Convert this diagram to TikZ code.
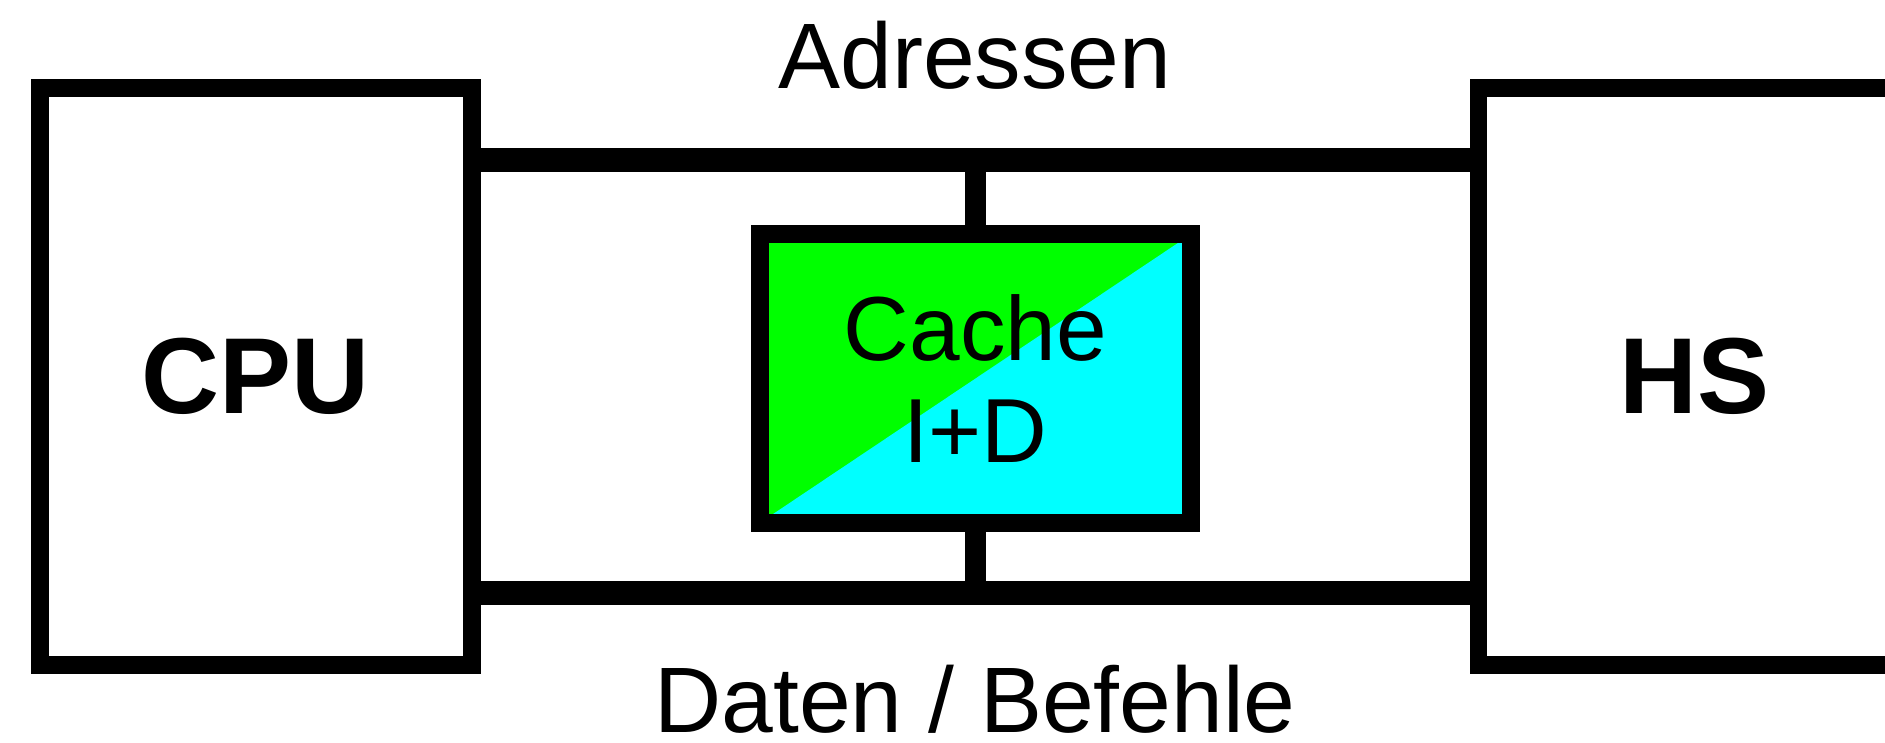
\documentclass[tikz,border=0pt]{standalone}
\usepackage{fontspec}
\setmainfont{Liberation Sans}
\definecolor{cgreen}{RGB}{0,255,0}
\definecolor{ccyan}{RGB}{0,255,255}
\begin{document}
\begin{tikzpicture}[x=1pt,y=-1pt,
  unitbox/.style={draw=black, line width=17.5pt, fill=white, minimum width=432pt, minimum height=577pt, inner sep=0pt, font=\fontsize{108}{120}\selectfont\bfseries},
  cachebox/.style={draw=black, line width=18pt, fill=cgreen, minimum width=431pt, minimum height=288.5pt, inner sep=0pt, align=center, font=\fontsize{91}{101.6}\selectfont,
    path picture={\fill[ccyan] (path picture bounding box.south west) -- (path picture bounding box.north east) -- (path picture bounding box.south east) -- cycle;}},
  bus/.style={draw=black, line width=24pt},
  stem/.style={draw=black, line width=21pt},
  lbl/.style={font=\fontsize{93}{110}\selectfont, anchor=base, inner sep=0pt}
]
\clip (0,0) rectangle (1885,743);
\fill[white] (0,0) rectangle (1885,743);
\coordinate (atop) at (975.5,160.5);
\coordinate (abot) at (975.5,592.8);
\draw[bus] (472,160.5) -- (1479,160.5);
\draw[bus] (472,592.8) -- (1479,592.8);
\node[unitbox] (cpu) at (255.8,376.5) {CPU};
\node[unitbox] (hs) at (1694.5,376.5) {HS};
\node[cachebox] (cache) at (975.5,378.5) {Cache\\I+D};
\draw[stem] (atop) -- (cache.north);
\draw[stem] (cache.south) -- (abot);
\node[lbl] (adr) at (975,89) {Adressen};
\node[lbl] (dat) at (975,732) {Daten / Befehle};
\end{tikzpicture}
\end{document}
